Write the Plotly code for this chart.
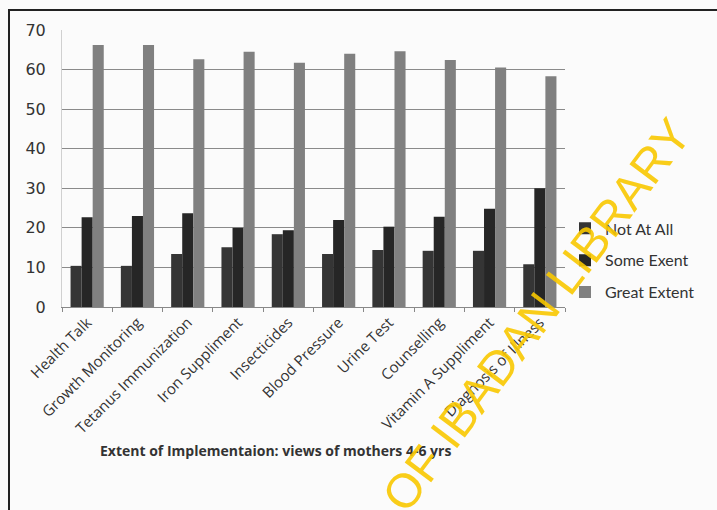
import plotly.graph_objects as go

categories = ["Health Talk", "Growth Monitoring", "Tetanus Immunization", "Iron Suppliment",
              "Insecticides", "Blood Pressure", "Urine Test", "Counselling",
              "Vitamin A Suppliment", "Diagnosis of Illness"]
not_at_all = [10.4, 10.4, 13.4, 15.1, 18.4, 13.4, 14.4, 14.2, 14.2, 10.8]
some_extent = [22.7, 23.0, 23.7, 20.0, 19.4, 22.0, 20.3, 22.8, 24.8, 30.0]
great_extent = [66.2, 66.2, 62.6, 64.5, 61.7, 64.0, 64.6, 62.4, 60.5, 58.3]
series_names = ["Not At All", "Some Exent", "Great Extent"]
yticks = [0, 10, 20, 30, 40, 50, 60, 70]

colors = ["#353535", "#262626", "#808080"]
fig = go.Figure()
for i, (name, vals) in enumerate(zip(series_names, [not_at_all, some_extent, great_extent])):
    fig.add_trace(go.Bar(x=categories, y=vals, name=name, marker_color=colors[i],
                         marker_line_width=0, legendgroup=str(i)))

fig.update_layout(
    width=717, height=510,
    margin=dict(l=62, r=152, t=30, b=203, autoexpand=False),
    barmode="group", bargap=0.34, bargroupgap=0,
    paper_bgcolor="#fbfbfb", plot_bgcolor="#fbfbfb",
    showlegend=True,
    legend=dict(x=1.0, y=0.345, xanchor="left", yanchor="top",
                font=dict(family="Lato, Open Sans, sans-serif", size=16, color="#333"),
                traceorder="grouped", tracegroupgap=8, bgcolor="rgba(0,0,0,0)",
                itemwidth=30),
    font=dict(family="DejaVu Sans", color="#333"),
)
fig.update_yaxes(range=[0, 70], tickvals=yticks, showgrid=True, gridcolor="#8a8a8a", gridwidth=1,
                 tickfont=dict(family="DejaVu Sans", size=16, color="#333"),
                 zeroline=False, showline=True, linecolor="#d0d0d0", ticks="", ticklen=0,
                 ticklabelstandoff=12)
fig.update_xaxes(tickangle=-45, tickfont=dict(family="Open Sans, Lato, sans-serif", size=15, color="#333"),
                 showline=True, linecolor="#888", ticks="outside", tickson="boundaries",
                 ticklen=4, tickcolor="#888")

fig.add_annotation(text="<b>Extent of Implementaion: views of mothers 4-6 yrs</b>",
                   xref="paper", yref="paper", x=(275 - 62) / 503, y=(307 - 450) / 277,
                   xanchor="center", yanchor="middle", showarrow=False,
                   font=dict(family="Open Sans, Lato, sans-serif", size=14, color="#333"))

# watermark
fig.add_annotation(text="OF IBADAN LIBRARY", xref="paper", yref="paper",
                   xanchor="center", yanchor="middle",
                   x=(536 - 62) / 503, y=(307 - 315) / 277, showarrow=False, textangle=-53,
                   font=dict(family="Liberation Sans", size=48, color="rgba(248,200,0,0.9)"))

# outer frame
fig.add_shape(type="line", xref="paper", yref="paper", x0=-54 / 503, x1=655 / 503,
              y0=(307 - 10) / 277, y1=(307 - 10) / 277, line=dict(color="#222", width=2))
fig.add_shape(type="line", xref="paper", yref="paper", x0=-53 / 503, x1=-53 / 503,
              y0=(307 - 10) / 277, y1=(307 - 510) / 277, line=dict(color="#222", width=2))

fig.write_html("out.html")
